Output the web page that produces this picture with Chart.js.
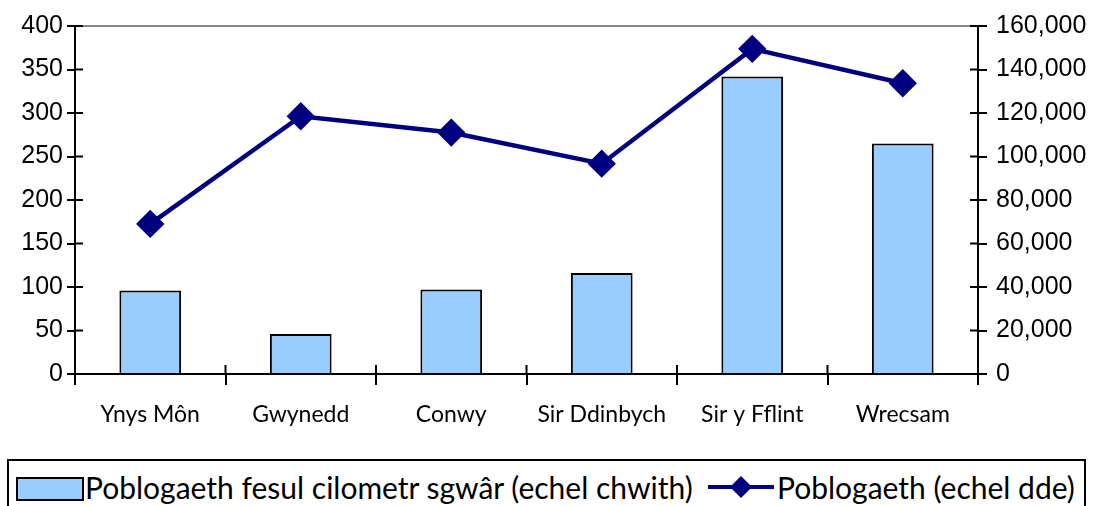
<!DOCTYPE html>
<html>
<head>
<meta charset="utf-8">
<script src="https://cdn.jsdelivr.net/npm/chart.js@4.4.1/dist/chart.umd.min.js"></script>
<style>
  body { margin: 0; background: #fff; }
  #wrap { position: relative; width: 1096px; height: 506px; overflow: hidden; }
  #legend {
    position: absolute; left: 7px; top: 459px; width: 1079px; height: 60px;
    border: 2px solid #000; box-sizing: border-box;
    font-family: "Lato", sans-serif;
    font-size: 30px; color: #000; white-space: nowrap;
  }
  #legend span { position: absolute; top: 8px; }
  .swatch { position: absolute; top: 16px; left: 7px; width: 64px; height: 20px; background: #99ccff; border: 2px solid #000; }
</style>
</head>
<body>
<div id="wrap">
  <canvas id="myChart" width="1096" height="452"></canvas>
  <div id="legend">
    <div class="swatch"></div>
    <span id="t1" style="left:76px">Poblogaeth fesul cilometr sgwâr (echel chwith)</span>
    <canvas id="mk" width="70" height="40" style="position:absolute;left:697px;top:6px"></canvas>
    <span id="t2" style="left:768px">Poblogaeth (echel dde)</span>
  </div>
</div>
<script>
// data
const ardaloedd = ['Ynys Môn', 'Gwynedd', 'Conwy', 'Sir Ddinbych', 'Sir y Fflint', 'Wrecsam'];
const dwysedd = [96, 46, 97, 116, 342, 265];                       // echel chwith
const poblogaeth = [69000, 118500, 111000, 96700, 149500, 133700]; // echel dde

// small legend marker for the line
const m = document.getElementById('mk').getContext('2d');
m.strokeStyle = '#000080'; m.lineWidth = 4;
m.beginPath(); m.moveTo(2, 20); m.lineTo(68, 20); m.stroke();
m.fillStyle = '#000080';
m.beginPath(); m.moveTo(35, 9); m.lineTo(46, 20); m.lineTo(35, 31); m.lineTo(24, 20); m.closePath(); m.fill();

// ticks that cross the axis line (excel style)
const crossTicks = {
  id: 'crossTicks',
  afterDraw(chart) {
    const c = chart.ctx;
    c.save();
    c.strokeStyle = '#000'; c.lineWidth = 2;
    const y = chart.scales.y, y1 = chart.scales.y1, x = chart.scales.x;
    y.ticks.forEach((t, i) => {
      const py = y.getPixelForTick(i);
      c.beginPath(); c.moveTo(y.right, py); c.lineTo(y.right + 8, py); c.stroke();
    });
    y1.ticks.forEach((t, i) => {
      const py = y1.getPixelForTick(i);
      c.beginPath(); c.moveTo(y1.left - 8, py); c.lineTo(y1.left, py); c.stroke();
    });
    const step = (x.right - x.left) / ardaloedd.length;
    for (let i = 1; i < ardaloedd.length; i++) {
      const px = x.left + step * i;
      c.beginPath(); c.moveTo(px, x.top - 9); c.lineTo(px, x.top); c.stroke();
    }
    c.restore();
  }
};

const ctx = document.getElementById('myChart').getContext('2d');
const myChart = new Chart(ctx, {
  data: {
    labels: ardaloedd,
    datasets: [
      {
        type: 'line',
        label: 'Poblogaeth (echel dde)',
        data: poblogaeth,
        yAxisID: 'y1',
        borderColor: '#000080',
        backgroundColor: '#000080',
        borderWidth: 4.5,
        pointStyle: 'rectRot',
        pointRadius: 11,
        pointHoverRadius: 11,
        tension: 0,
        order: 0
      },
      {
        type: 'bar',
        label: 'Poblogaeth fesul cilometr sgwâr (echel chwith)',
        data: dwysedd,
        yAxisID: 'y',
        backgroundColor: '#99ccff',
        borderColor: '#000',
        borderWidth: 2,
        barPercentage: 0.41,
        categoryPercentage: 1,
        order: 1
      }
    ]
  },
  options: {
    responsive: false,
    animation: false,
    layout: { padding: { top: 26, left: 0, right: 0, bottom: 0 } },
    plugins: { legend: { display: false }, tooltip: { enabled: false } },
    scales: {
      x: {
        offset: true,
        grid: { offset: true, color: 'transparent', tickColor: '#000', tickLength: 11, lineWidth: 2 },
        border: { color: '#000', width: 2 },
        ticks: { color: '#000', padding: 16, font: { family: 'Lato', size: 23 } },
        afterFit(s) { s.height = 78; }
      },
      y: {
        position: 'left',
        min: 0, max: 400,
        ticks: { stepSize: 50, color: '#000', padding: 4, font: { family: 'Liberation Sans', size: 25 } },
        grid: {
          color: c => c.tick && c.tick.value === 400 ? '#888' : 'transparent',
          tickColor: '#000', tickLength: 8, lineWidth: 2
        },
        border: { color: '#000', width: 2 },
        afterFit(s) { s.width = 75; }
      },
      y1: {
        position: 'right',
        min: 0, max: 160000,
        ticks: {
          stepSize: 20000, color: '#000', padding: 9, font: { family: 'Liberation Sans', size: 25 },
          callback: v => v.toLocaleString('en-GB')
        },
        grid: { drawOnChartArea: false, color: 'transparent', tickColor: '#000', tickLength: 9, lineWidth: 2 },
        border: { color: '#000', width: 2 },
        afterFit(s) { s.width = 118; }
      }
    }
  },
  plugins: [crossTicks]
});
</script>
</body>
</html>
